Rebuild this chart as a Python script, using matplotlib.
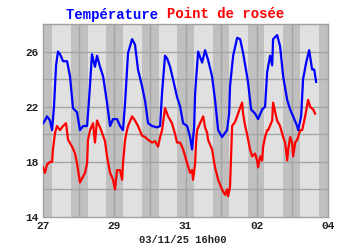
import matplotlib
matplotlib.use("Agg")
import matplotlib.pyplot as plt
import numpy as np

# hours since 27/10 00h00
temp_hours = [0, 1.3, 2.7, 4.7, 6.1, 7.4, 8.8, 10.1, 11.5, 13.5, 14.8, 16.2, 18.2, 20.2, 22.9,
              24.9, 27.0, 29.7, 31.0, 33.0, 35.0, 36.4, 38.4, 40.5, 43.1, 45.2, 47.2, 49.9,
              51.9, 53.9, 55.3, 57.3, 60.0, 62.0, 64.0, 66.7, 68.8, 70.8, 73.5, 76.9, 78.9,
              80.2, 82.2, 83.6, 85.6, 87.6, 90.3, 92.4, 94.4, 97.1, 99.1, 100.4, 101.8, 102.5,
              104.5, 107.2, 109.2, 111.2, 113.9, 115.9, 118.0, 120.6, 124.0, 125.4, 126.0,
              128.1, 130.8, 132.8, 134.8, 137.5, 138.2, 140.2, 142.9, 144.9, 147.6, 149.6,
              151.0, 153.0, 154.4, 155.0, 157.7, 159.7, 161.8, 164.5, 166.5, 168.5, 171.2,
              171.9, 173.9, 175.2, 177.3, 179.3, 181.3, 182.7, 184.0]
temp_values = [20.8, 21.0, 21.3, 21.0, 20.3, 22.0, 25.0, 26.0, 25.8, 25.3, 25.3, 25.3, 24.2, 21.9, 21.6,
               20.3, 20.6, 20.6, 22.5, 25.8, 24.9, 25.7, 24.9, 24.2, 22.3, 20.6, 21.1, 21.1,
               20.6, 20.3, 22.3, 25.9, 26.9, 26.5, 24.7, 23.5, 22.4, 20.8, 20.6, 20.5, 20.6,
               23.0, 25.7, 25.5, 24.9, 24.0, 22.7, 22.0, 20.8, 20.6, 19.8, 18.9, 20.5, 23.0,
               26.0, 25.2, 26.1, 25.4, 24.2, 22.5, 20.3, 19.8, 20.3, 21.5, 23.5,
               25.7, 27.0, 26.9, 25.9, 24.2, 23.7, 21.8, 21.5, 21.1, 21.8, 22.0,
               24.5, 25.7, 25.0, 26.9, 27.2, 26.4, 24.2, 22.5, 21.8, 21.3, 20.6,
               20.3, 21.3, 24.0, 25.2, 26.1, 24.7, 24.7, 23.8]

dew_hours = [0, 1.3, 2.7, 4.7, 6.1, 6.7, 8.1, 9.4, 11.5, 13.5, 15.5, 16.9, 19.6, 21.6, 22.9, 23.6,
             24.9, 26.3, 28.3, 29.7, 30.3, 31.7, 33.7, 35.0, 36.4, 38.4, 39.8, 41.8, 43.1, 45.2,
             47.2, 48.5, 49.9, 51.9, 53.3, 53.9, 55.3, 56.6, 57.3, 60.0, 62.0, 64.0, 66.7, 68.8,
             70.8, 73.5, 75.5, 77.5, 78.9, 80.2, 82.2, 84.3, 86.9, 89.0, 90.3, 92.4, 94.4, 97.1,
             99.1, 100.4, 101.1, 102.5, 103.1, 103.8, 105.8, 107.9, 109.2, 110.6, 111.2, 113.9,
             115.9, 118.0, 120.6, 122.7, 124.0, 124.7, 126.0, 127.4, 129.4, 131.4, 134.1, 134.8,
             136.2, 137.5, 138.2, 139.5, 140.9, 142.9, 144.2, 144.9, 146.3, 147.6, 148.3, 149.6,
             151.0, 151.7, 154.4, 155.0, 157.7, 159.7, 161.8, 163.1, 164.5, 165.2, 166.5, 167.8,
             168.5, 169.9, 171.2, 171.9, 173.2, 174.6, 176.6, 178.6, 180.0, 182.0, 183.3]
dew_values = [17.6, 17.2, 17.8, 18.0, 18.0, 18.9, 20.1, 20.6, 20.3, 20.6, 20.8, 19.6, 19.1, 18.6, 17.9, 17.4,
              16.5, 16.8, 17.2, 17.9, 19.6, 20.3, 20.8, 19.4, 21.0, 20.5, 20.1, 19.5, 18.4, 17.2,
              16.7, 16.0, 17.4, 17.4, 16.7, 17.9, 19.6, 20.3, 20.6, 21.3, 21.0, 20.6, 19.9, 19.8,
              19.6, 19.4, 19.5, 19.1, 19.8, 20.3, 21.9, 21.3, 20.8, 20.0, 19.4, 19.4, 18.9, 17.9,
              17.2, 17.4, 16.7, 17.9, 19.4, 20.3, 20.8, 21.3, 20.5, 20.1, 19.6, 18.9,
              17.6, 16.7, 16.0, 15.6, 16.0, 15.5, 16.2, 20.6, 20.9, 21.5, 22.3, 21.5,
              20.6, 20.0, 19.6, 18.9, 18.4, 18.6, 18.1, 17.6, 18.4, 18.1, 19.1, 19.8,
              20.3, 20.3, 21.0, 22.3, 21.0, 20.6, 19.8, 19.4, 18.1, 18.9, 19.8, 19.4,
              18.4, 19.4, 19.6, 19.8, 20.3, 20.3, 21.3, 22.5, 22.0, 21.8, 21.5]

# day/night (hours of day)
sunrise = [6.3, 6.2, 6.0, 5.9, 5.8, 5.5, 5.2, 5.1]
sunset = [18.9, 18.7, 18.6, 18.4, 18.4, 18.2, 18.0, 17.9]

x_ticks = [0, 2, 4, 6, 8]
x_labels = ["27", "29", "31", "02", "04"]
y_ticks = [14, 18, 22, 26]

title_parts = [("Température", "#0000ff"), ("Point de rosée", "#ff0000")]
footer = "03/11/25 16h00"

FONT = ["Liberation Mono", "DejaVu Sans Mono"]

fig = plt.figure(figsize=(3.5, 2.5), dpi=100)
fig.patch.set_facecolor("white")
ax = fig.add_axes([43/350, 33/250, 285/350, 193/250])
ax.set_xlim(0, 8)
ax.set_ylim(14, 28)

night_c = "#c0c0c0"
day_c = "#e0e0e0"
ax.set_facecolor(night_c)
for d, (sr, ss) in enumerate(zip(sunrise, sunset)):
    ax.axvspan(d + sr / 24, d + ss / 24, color=day_c, lw=0, zorder=0)

grid_c = "#a4a4a4"
for v in np.arange(16, 28, 2):
    ax.axhline(v, color=grid_c, lw=1.0, zorder=1)
for d in range(1, 8):
    ax.axvline(d, color=grid_c, lw=1.0, zorder=1)

ax.plot(np.array(dew_hours) / 24, dew_values, color="#ff0000", lw=1.6, zorder=3)
ax.plot(np.array(temp_hours) / 24, temp_values, color="#0000ff", lw=1.6, zorder=4)

ax.set_xticks(x_ticks)
ax.set_xticklabels(x_labels)
ax.set_yticks(y_ticks)
ax.set_yticklabels([str(v) for v in y_ticks])
ax.tick_params(length=0, pad=3, labelsize=8, colors="#222222")
for lab in ax.get_xticklabels() + ax.get_yticklabels():
    lab.set_fontfamily(FONT)
    lab.set_fontweight("bold")
for s in ax.spines.values():
    s.set_color("#a0a0a0")
    s.set_linewidth(1.0)

# title in two colours
t1 = fig.text(0.5, 0.97, title_parts[0][0] + " ", color=title_parts[0][1],
              fontsize=10, fontweight="bold", family=FONT, ha="right", va="top")
fig.canvas.draw()
w1 = t1.get_window_extent().width
t2 = fig.text(0.5, 0.97, title_parts[1][0], color=title_parts[1][1],
              fontsize=10, fontweight="bold", family=FONT, ha="left", va="top")
w2 = t2.get_window_extent().width
shift = (w1 - w2) / 2 / (350)
t1.set_x(0.5 + shift)
t2.set_x(0.5 + shift)

fig.text(183/350, 1 - 240/250, footer, fontsize=7.5, fontweight="bold", family=FONT,
         ha="center", va="center", color="#222222")

fig.savefig("out.png", dpi=100)
